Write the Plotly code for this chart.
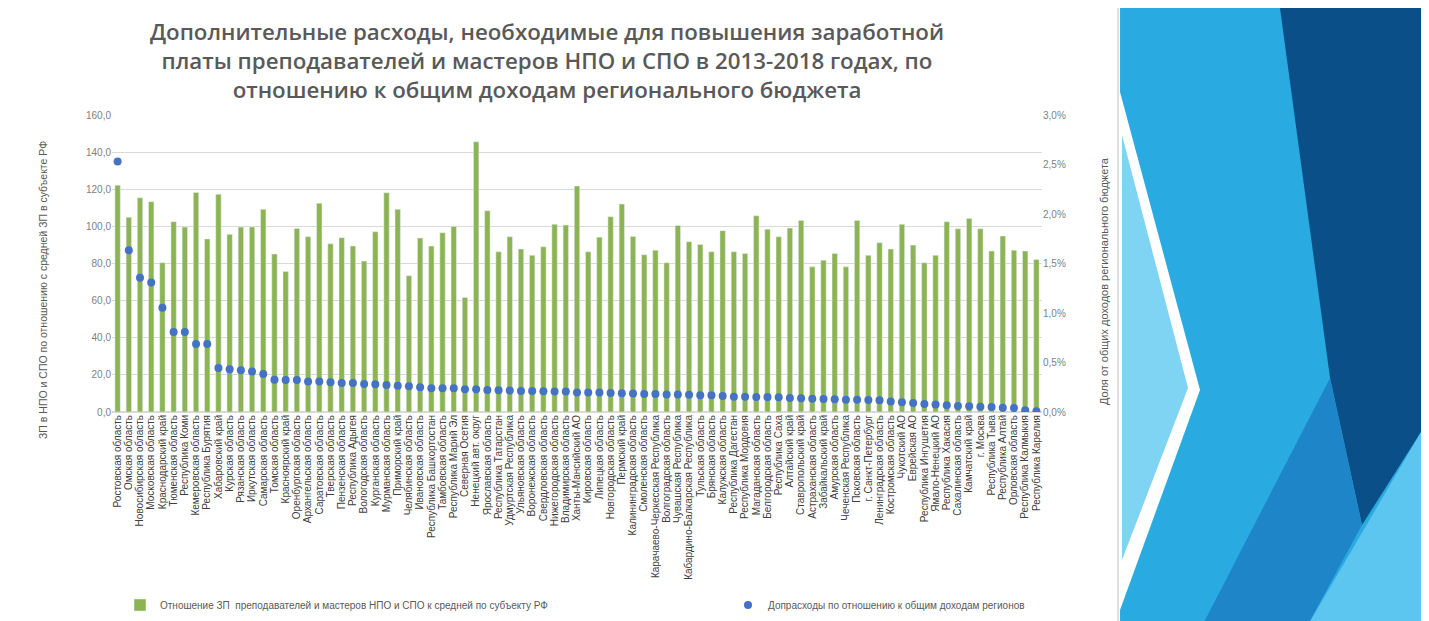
import plotly.graph_objects as go

regions = [
    "Ростовская область", "Омская область", "Новосибирская область", "Московская область",
    "Краснодарский край", "Тюменская область", "Республика Коми", "Кемеровская область",
    "Республика Бурятия", "Хабаровский край", "Курская область", "Рязанская область",
    "Иркутская область", "Самарская область", "Томская область", "Красноярский край",
    "Оренбургская область", "Архангельская область", "Саратовская область", "Тверская область",
    "Пензенская область", "Республика Адыгея", "Вологодская область", "Курганская область",
    "Мурманская область", "Приморский край", "Челябинская область", "Ивановская область",
    "Республика Башкортостан", "Тамбовская область", "Республика Марий Эл", "Северная Осетия",
    "Ненецкий авт. округ", "Ярославская область", "Республика Татарстан", "Удмуртская Республика",
    "Ульяновская область", "Воронежская область", "Свердловская область", "Нижегородская область",
    "Владимирская область", "Ханты-Мансийский АО", "Кировская область", "Липецкая область",
    "Новгородская область", "Пермский край", "Калининградская область", "Смоленская область",
    "Карачаево-Черкесская Республика", "Волгоградская область", "Чувашская Республика",
    "Кабардино-Балкарская Республика", "Тульская область", "Брянская область", "Калужская область",
    "Республика Дагестан", "Республика Мордовия", "Магаданская область", "Белгородская область",
    "Республика Саха", "Алтайский край", "Ставропольский край", "Астраханская область",
    "Забайкальский край", "Амурская область", "Чеченская Республика", "Псковская область",
    "г. Санкт-Петербург", "Ленинградская область", "Костромская область", "Чукотский АО",
    "Еврейская АО", "Республика Ингушетия", "Ямало-Ненецкий АО", "Республика Хакасия",
    "Сахалинская область", "Камчатский край", "г. Москва", "Республика Тыва",
    "Республика Алтай", "Орловская область", "Республика Калмыкия", "Республика Карелия",
]

salary_ratio = [
    122.2, 104.9, 115.4, 113.3, 80.4, 102.5, 99.6, 118.3, 93.2, 117.3,
    95.7, 99.6, 99.6, 109.2, 85.1, 75.7, 98.9, 94.4, 112.4, 90.6,
    93.9, 89.4, 81.3, 97.1, 118.1, 109.2, 73.4, 93.7, 89.4, 96.6,
    100.0, 61.7, 145.6, 108.4, 86.3, 94.4, 87.8, 84.4, 89.0, 101.1,
    100.7, 121.7, 86.3, 94.2, 105.2, 112.0, 94.6, 84.7, 87.2, 80.4,
    100.5, 91.7, 90.3, 86.3, 97.7, 86.3, 85.4, 105.7, 98.5, 94.4,
    99.1, 103.2, 78.2, 81.8, 85.4, 78.2, 103.2, 84.4, 91.2, 87.8,
    101.1, 89.9, 80.4, 84.4, 102.5, 98.7, 104.3, 98.7, 86.7, 94.8,
    87.2, 86.7, 82.2,
]

extra_share = [
    0.0253, 0.01635, 0.01355, 0.01308, 0.01052, 0.00809, 0.00809, 0.00688, 0.00688, 0.00445,
    0.00432, 0.00422, 0.00408, 0.00384, 0.00327, 0.00324, 0.00324, 0.00307, 0.00307, 0.00300,
    0.00293, 0.00293, 0.00283, 0.00280, 0.00273, 0.00266, 0.00260, 0.00250, 0.00240, 0.00240,
    0.00240, 0.00230, 0.00230, 0.00223, 0.00220, 0.00216, 0.00213, 0.00213, 0.00209, 0.00206,
    0.00206, 0.00196, 0.00196, 0.00196, 0.00193, 0.00190, 0.00186, 0.00183, 0.00183, 0.00176,
    0.00176, 0.00173, 0.00170, 0.00170, 0.00162, 0.00155, 0.00155, 0.00152, 0.00152, 0.00149,
    0.00142, 0.00139, 0.00135, 0.00132, 0.00129, 0.00125, 0.00125, 0.00122, 0.00118, 0.00105,
    0.00098, 0.00091, 0.00081, 0.00075, 0.00068, 0.00061, 0.00058, 0.00054, 0.00051, 0.00044,
    0.00041, 0.00017, 0.00007,
]

left_ticks = [0, 20, 40, 60, 80, 100, 120, 140, 160]
right_ticks = [0, 0.005, 0.01, 0.015, 0.02, 0.025, 0.03]

W, H = 1429, 621
OFF = 8  # the page shows the figure shifted by the default body margin
ML, MR, MT, MB = 104, 395, 107, 217
PW, PH = W - ML - MR, H - MT - MB


def px(sx):
    return (sx - OFF - ML) / PW


def py(sy):
    return (H - MB - (sy - OFF)) / PH


def poly(points):
    return "M " + " L ".join(f"{px(a):.4f},{py(b):.4f}" for a, b in points) + " Z"


fig = go.Figure()
fig.add_trace(go.Bar(
    x=regions, y=salary_ratio,
    name="Отношение ЗП  преподавателей и мастеров НПО и СПО к средней по субъекту РФ",
    marker=dict(color="#8DB453"), legend="legend",
))
fig.add_trace(go.Scatter(
    x=regions, y=extra_share, yaxis="y2", mode="markers",
    name="Допрасходы по отношению к общим доходам регионов",
    marker=dict(color="#4472C4", size=8), legend="legend2",
))

deco = [
    ("#29ABE2", [(1120, 8), (1421, 8), (1421, 630), (1120, 630)]),
    ("#FFFFFF", [(1120, 92), (1200, 390), (1120, 610)]),
    ("#7FD3F3", [(1122, 135), (1188, 388), (1122, 560)]),
    ("#0B4F88", [(1280, 8), (1421, 8), (1421, 432), (1362, 525), (1330, 378)]),
    ("#1E86C8", [(1330, 378), (1362, 525), (1305, 630), (1200, 630)]),
    ("#5CC6F0", [(1305, 630), (1421, 432), (1421, 630)]),
]
shapes = [dict(type="path", xref="paper", yref="paper", path=poly(p),
               fillcolor=c, line=dict(width=0), layer="below") for c, p in deco]
shapes.append(dict(type="line", xref="paper", yref="paper", x0=px(1118), x1=px(1118),
                   y0=py(8), y1=py(630), line=dict(color="#BFBFBF", width=1)))

legend_font = dict(size=10, color="#595959")

fig.update_layout(
    width=W, height=H,
    margin=dict(l=ML, r=MR, t=MT, b=MB, autoexpand=False),
    paper_bgcolor="white", plot_bgcolor="white",
    separators=", ",
    font=dict(family="Liberation Sans, Arial, sans-serif", color="#595959"),
    title=dict(
        text="Дополнительные расходы, необходимые для повышения заработной<br>"
             "платы преподавателей и мастеров НПО и СПО в 2013-2018 годах, по<br>"
             "отношению к общим доходам регионального бюджета",
        x=(547 - OFF) / W, xanchor="center", xref="container",
        y=1 - 32 / H, yanchor="top", yref="container",
        font=dict(family="Open Sans, sans-serif", size=22.3, color="#595959", weight=600),
    ),
    bargap=0.52,
    showlegend=True,
    legend=dict(orientation="h", x=px(120), xanchor="left", y=py(605), yanchor="middle",
                font=legend_font, bgcolor="rgba(0,0,0,0)"),
    legend2=dict(orientation="h", x=px(728), xanchor="left", y=py(605), yanchor="middle",
                 font=legend_font, bgcolor="rgba(0,0,0,0)"),
    xaxis=dict(tickangle=-90, tickfont=dict(size=10, color="#404040"), showgrid=False,
               showline=False, ticks="", tickmode="linear", tick0=0, dtick=1,
               range=[-0.5, len(regions) - 0.5], automargin=False),
    yaxis=dict(range=[0, 160], tickvals=left_ticks, tickformat=".1f",
               gridcolor="#D9D9D9", zeroline=True, zerolinecolor="#D9D9D9",
               tickfont=dict(size=10, color="#7F7F7F"), ticks="", automargin=False),
    yaxis2=dict(range=[0, 0.03], tickvals=right_ticks, tickformat=".1%", overlaying="y",
                side="right", showgrid=False, zeroline=False,
                tickfont=dict(size=10, color="#7F7F7F"), ticks="", automargin=False),
    shapes=shapes,
    annotations=[
        dict(text="ЗП в НПО и СПО по отношению с средней ЗП в субъекте РФ",
             xref="paper", yref="paper", x=px(35), y=py(290), textangle=-90,
             showarrow=False, font=dict(size=10.5, color="#595959")),
        dict(text="Доля от общих доходов регионального бюджета",
             xref="paper", yref="paper", x=px(1112), y=py(281), textangle=-90,
             showarrow=False, font=dict(size=11, color="#595959")),
    ],
)

fig.write_html("out.html")
